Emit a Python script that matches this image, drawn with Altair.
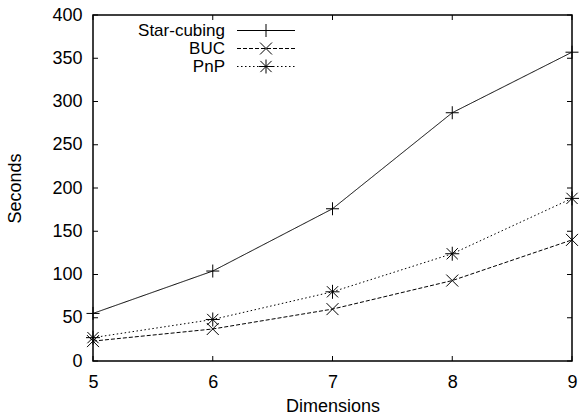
import altair as alt
import pandas as pd

dimensions = [5, 6, 7, 8, 9]
star_cubing = [55, 104, 176, 287, 357]
buc = [23, 37, 60, 93, 140]
pnp = [27, 48, 80, 124, 188]
series_names = ["Star-cubing", "BUC", "PnP"]
y_ticks = [0, 50, 100, 150, 200, 250, 300, 350, 400]
x_ticks = [5, 6, 7, 8, 9]

W, H = 479, 346
FONT = "Liberation Sans"
FS = 18
LFS = 17

rows = []
for name, vals in zip(series_names, [star_cubing, buc, pnp]):
    for d, v in zip(dimensions, vals):
        rows.append({"dim": d, "sec": v, "series": name})
df = pd.DataFrame(rows)

PLUS = "M-1,0L1,0M0,-1L0,1"
XSHAPE = "M-1,-1L1,1M-1,1L1,-1"
STAR = "M-1,0L1,0M0,-1L0,1M-0.8,-0.8L0.8,0.8M-0.8,0.8L0.8,-0.8"
shapes = [PLUS, XSHAPE, STAR]
sizes = [169, 144, 196]
dashes = [[1, 0], [4, 2], [1.5, 2.5]]

xs = alt.Scale(domain=[5, 9], nice=False, zero=False)
ys = alt.Scale(domain=[0, 400], nice=False)

xaxis = alt.Axis(values=x_ticks, ticks=False, grid=False, domain=False,
                 labelFont=FONT, labelFontSize=FS, labelColor="black",
                 labelPadding=12, labelFlush=False, title="Dimensions", titleFont=FONT,
                 titleFontSize=FS, titleFontWeight="normal", titleColor="black",
                 titlePadding=6, format="d")
yaxis = alt.Axis(values=y_ticks, ticks=False, grid=False, domain=False,
                 labelFont=FONT, labelFontSize=FS, labelColor="black",
                 labelPadding=11, labelFlush=False, title="Seconds", titleFont=FONT,
                 titleFontSize=FS, titleFontWeight="normal", titleColor="black",
                 titleX=-69, titleY=H / 2, titleAngle=-90, format="d")

X = lambda f: alt.X(f, scale=xs, axis=xaxis)
Y = lambda f: alt.Y(f, scale=ys, axis=yaxis)

layers = []
for i, name in enumerate(series_names):
    sub = df[df.series == name]
    base = alt.Chart(sub)
    line = base.mark_line(color="black", strokeWidth=1, strokeDash=dashes[i], clip=False).encode(
        x=X("dim:Q"), y=Y("sec:Q"))
    pts = base.mark_point(shape=shapes[i], size=sizes[i], color="black", strokeWidth=1,
                          filled=False, opacity=1, clip=False).encode(
        x=X("dim:Q"), y=Y("sec:Q"))
    layers += [line, pts]

    # legend entry
    ly = 15.5 + i * 18
    leg = pd.DataFrame({"label": [name]})
    lb = alt.Chart(leg)
    layers.append(lb.mark_text(align="right", baseline="middle", font=FONT, fontSize=LFS,
                               color="black").encode(
        text="label:N", x=alt.value(132), y=alt.value(ly)))
    layers.append(lb.mark_rule(color="black", strokeWidth=1, strokeDash=dashes[i]).encode(
        x=alt.value(144), x2=alt.value(202), y=alt.value(ly)))
    layers.append(lb.mark_point(shape=shapes[i], size=sizes[i], color="black", strokeWidth=1,
                                filled=False, opacity=1).encode(
        x=alt.value(173), y=alt.value(ly)))

# inward ticks
yt = alt.Chart(pd.DataFrame({"v": y_ticks}))
xt = alt.Chart(pd.DataFrame({"v": x_ticks}))
layers.append(yt.mark_rule(color="black", strokeWidth=1).encode(
    y=Y("v:Q"), x=alt.value(0), x2=alt.value(5)))
layers.append(yt.mark_rule(color="black", strokeWidth=1).encode(
    y=Y("v:Q"), x=alt.value(W - 5), x2=alt.value(W)))
layers.append(xt.mark_rule(color="black", strokeWidth=1).encode(
    x=X("v:Q"), y=alt.value(H), y2=alt.value(H - 5)))
layers.append(xt.mark_rule(color="black", strokeWidth=1).encode(
    x=X("v:Q"), y=alt.value(0), y2=alt.value(5)))

chart = alt.layer(*layers).properties(
    width=W, height=H,
    background="white",
    autosize=alt.AutoSizeParams(type="none"),
    padding={"left": 93, "top": 15, "right": 10, "bottom": 58},
).configure_view(stroke="black", strokeWidth=1.5)

chart.save("out.html", embed_options={"renderer": "svg", "actions": False})
